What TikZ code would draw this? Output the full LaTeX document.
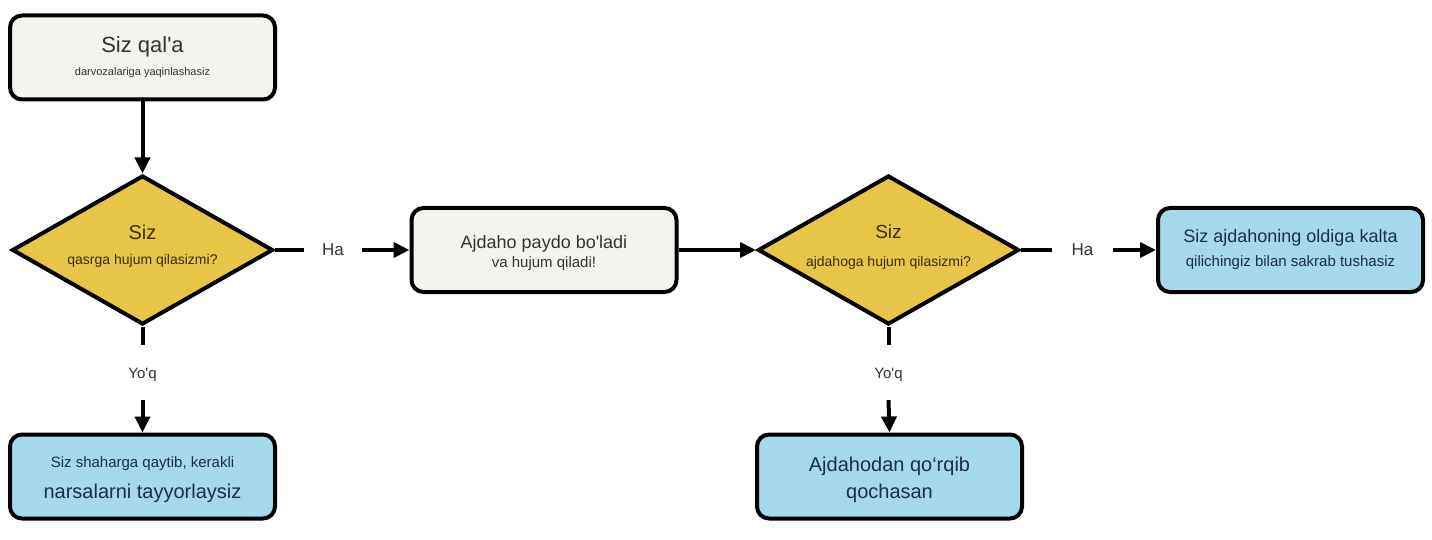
\documentclass[tikz,border=0pt]{standalone}
\usepackage{fontspec}
\setmainfont{Liberation Sans}
\usetikzlibrary{shapes.geometric,arrows.meta,positioning}

\definecolor{boxgrey}{HTML}{F3F3F0}
\definecolor{boxblue}{HTML}{A6D8EB}
\definecolor{boxyellow}{HTML}{E7C547}
\definecolor{textgrey}{HTML}{333333}
\definecolor{textbrown}{HTML}{3A2D10}
\definecolor{textblue}{HTML}{1B2F45}

\tikzset{
    stepbox/.style={draw, line width=4pt, rounded corners=12pt, align=center,
        minimum width=265pt, minimum height=84pt, inner sep=0pt},
    greybox/.style={stepbox, fill=boxgrey, text=textgrey},
    bluebox/.style={stepbox, fill=boxblue, text=textblue},
    question/.style={draw, diamond, aspect=1.75, line width=4pt, fill=boxyellow,
        text=textbrown, align=center, minimum width=261pt, minimum height=149pt,
        inner sep=0pt},
    answer/.style={text=textgrey, inner sep=0pt},
    link/.style={line width=4pt},
    conn/.style={link, -{Triangle[length=16pt,width=15pt]}}
}

\newcommand{\fs}[2]{\fontsize{#1}{#2}\selectfont}
% invisible struts to nudge text inside a node
\newcommand{\up}[1]{\rule{0pt}{#1}}
\newcommand{\down}[1]{\rule[-#1]{0pt}{#1}}

\begin{document}
\begin{tikzpicture}[x=1pt, y=-1pt]
    \useasboundingbox (0,0) rectangle (1432,540);

    % Start
    \node [greybox, font=\fs{11}{23}] (start) at (142.5,57.5)
        {{\fs{22}{23}Siz qal\textquotesingle a}\\darvozalariga yaqinlashasiz};

    % First question
    \node [question, font=\fs{14}{25}] (q1) at (142.5,250)
        {{\fs{20}{25}Siz}\\qasrga hujum qilasizmi?\down{11pt}};

    % Dragon appears
    \node [greybox, font=\fs{15}{19}] (dragon) at (544,250)
        {{\fs{18}{19}\up{20pt}Ajdaho paydo bo\textquotesingle ladi}\\va hujum qiladi!};

    % Second question
    \node [question, font=\fs{14}{28}] (q2) at (888.5,250)
        {{\fs{19}{28}Siz}\\ajdahoga hujum qilasizmi?\down{8pt}};

    % Outcomes
    \node [bluebox, font=\fs{15}{24}] (fight) at (1290.5,250)
        {{\fs{18}{24}Siz ajdahoning oldiga kalta}\\qilichingiz bilan sakrab tushasiz};
    \node [bluebox, font=\fs{20}{31}] (town) at (142.5,476.5)
        {{\fs{15}{31}\up{18pt}Siz shaharga qaytib, kerakli}\\narsalarni tayyorlaysiz};
    \node [bluebox, font=\fs{20}{27}] (flee) at (889.5,476.5)
        {\up{20.6pt}Ajdahodan qo‘rqib\\qochasan};

    % Answer labels
    \node [answer, font=\fs{17}{20}, minimum width=58pt] (yes1) at (333,250) {Ha};
    \node [answer, font=\fs{17}{20}, minimum width=60pt] (yes2) at (1082.5,250) {Ha};
    \node [answer, font=\fs{15}{18}, minimum height=55pt] (no1) at (142.5,372.5)
        {\up{14.7pt}Yo\textquotesingle q};
    \node [answer, font=\fs{15}{18}, minimum height=55pt] (no2) at (888.5,372.5)
        {\up{14.7pt}Yo\textquotesingle q};

    % Connectors
    \draw [conn] (start) -- (q1);
    \draw [link] (q1.east) -- (yes1.west);
    \draw [conn] (yes1.east) -- (dragon.west);
    \draw [conn] (dragon.east) -- (q2.west);
    \draw [link] (q2.east) -- (yes2.west);
    \draw [conn] (yes2.east) -- (fight.west);
    \draw [link] (q1.south) -- (no1.north);
    \draw [conn] (no1.south) -- (town.north);
    \draw [link] (q2.south) -- (no2.north);
    \draw [conn] (no2.south) -- (flee.north);
\end{tikzpicture}
\end{document}
